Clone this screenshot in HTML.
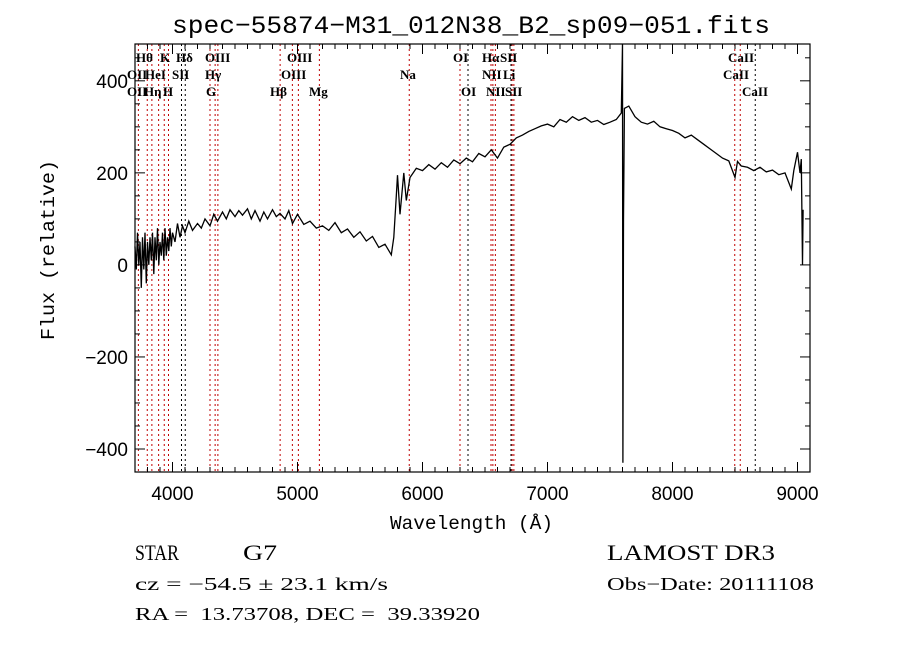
<!DOCTYPE html>
<html><head><meta charset="utf-8"><style>
body{margin:0;background:#fff;}
svg text{font-family:"Liberation Serif","DejaVu Serif",serif;}
svg text.mono{font-family:"Liberation Mono",monospace;}
svg text.sans{font-family:"Liberation Sans",sans-serif;}
</style></head><body>
<svg id="chart" width="900" height="649" viewBox="0 0 900 649" xmlns="http://www.w3.org/2000/svg">
<rect width="900" height="649" fill="#fff"/>
<text x="172" y="33" font-size="25" class="mono" textLength="598" lengthAdjust="spacingAndGlyphs">spec−55874−M31_012N38_B2_sp09−051.fits</text>
<g id="lines"></g>
<g id="linelabels"></g>
<path id="spec" fill="none" stroke="#000" stroke-width="1.3"/>
<rect x="135" y="44" width="675" height="428" fill="none" stroke="#000" stroke-width="1.2"/>
<g id="axes"></g>
<text x="390" y="529" font-size="19" class="mono" textLength="163" lengthAdjust="spacingAndGlyphs">Wavelength (Å)</text>
<text transform="translate(54,340) rotate(-90)" font-size="19" class="mono" textLength="180" lengthAdjust="spacingAndGlyphs">Flux (relative)</text>
<text x="135" y="560" font-size="22" textLength="44" lengthAdjust="spacingAndGlyphs">STAR</text>
<text x="243" y="560" font-size="22" textLength="34" lengthAdjust="spacingAndGlyphs">G7</text>
<text x="135" y="590" font-size="18" textLength="253" lengthAdjust="spacingAndGlyphs">cz = −54.5 ± 23.1 km/s</text>
<text x="135" y="620" font-size="18" textLength="345" lengthAdjust="spacingAndGlyphs" xml:space="preserve">RA =  13.73708, DEC =  39.33920</text>
<text x="607" y="560" font-size="22" textLength="168" lengthAdjust="spacingAndGlyphs">LAMOST DR3</text>
<text x="607" y="590" font-size="18" textLength="207" lengthAdjust="spacingAndGlyphs">Obs−Date: 20111108</text>
</svg>
<script>
const waves=[3700,3710,3720,3730,3740,3750,3760,3770,3780,3790,3800,3810,3820,3830,3840,3850,3860,3870,3880,3890,3900,3910,3920,3930,3940,3950,3960,3970,3980,3990,4000,4020,4040,4060,4080,4100,4130,4160,4200,4230,4260,4300,4330,4360,4400,4430,4460,4500,4530,4560,4600,4630,4660,4700,4730,4760,4800,4830,4860,4900,4930,4960,5000,5050,5100,5150,5200,5250,5300,5350,5400,5450,5500,5550,5600,5650,5700,5750,5770,5790,5800,5820,5850,5870,5900,5950,6000,6050,6100,6150,6200,6250,6300,6350,6400,6450,6500,6550,6600,6650,6700,6750,6800,6850,6900,6950,7000,7050,7100,7150,7200,7250,7300,7350,7400,7450,7500,7550,7590,7600,7603,7608,7615,7650,7700,7750,7800,7850,7900,7950,8000,8050,8100,8150,8200,8250,8300,8350,8400,8450,8500,8520,8550,8600,8650,8700,8750,8800,8850,8900,8950,8970,9000,9020,9030,9040,9045];
const flux=[40,-10,70,0,50,-50,60,-10,70,-40,50,0,60,10,70,-20,60,10,80,0,50,20,70,10,80,20,60,30,80,40,70,50,90,60,85,70,95,75,90,80,100,85,110,95,115,100,120,105,118,108,122,100,118,95,115,100,120,105,112,100,118,90,110,88,95,80,85,75,92,70,78,60,72,52,62,38,45,22,60,150,195,110,200,140,190,210,205,218,208,222,212,228,220,232,224,242,235,250,232,256,262,276,282,290,296,302,306,300,316,310,322,314,320,310,314,305,310,316,330,480,-430,100,340,345,322,310,306,312,300,296,292,286,276,282,272,262,252,242,232,226,190,225,215,212,205,212,202,206,196,200,165,205,245,200,230,0,120];
const lineWaves=[3727,3798,3835,3889,3934,3968,4072,4102,4300,4341,4363,4861,4959,5007,5175,5894,6300,6364,6548,6563,6583,6708,6717,6731,8498,8542,8662];
const lineColors=["r","r","r","r","r","r","k","k","r","r","r","r","r","r","r","r","r","k","r","r","r","k","r","r","r","r","k"];
const labelText=["Hθ","K","Hδ","OIII","OIII","OII","HeI","SII","Hγ","OIII","OII","Hη","H","G","Hβ","Mg","OI","Hα","SII","Na","NII","Li","OI","NII","SII","CaII","CaII","CaII"];
const labelX=[136,160,176,205,287,127,145,172,205,281,127,144,163,206,270,309,453,482,500,400,482,503,461,486,505,728,723,742];
const labelRow=[0,0,0,0,0,1,1,1,1,1,2,2,2,2,2,2,0,0,0,1,1,1,2,2,2,0,1,2];
const xTicks=[4000,5000,6000,7000,8000,9000];
const yTicks=[-400,-200,0,200,400];
const X0=3700,X1=9100,Y0=-450,Y1=480,L=135,R=810,T=44,B=472;
const sx=w=>L+(w-X0)/(X1-X0)*(R-L);
const sy=f=>B-(f-Y0)/(Y1-Y0)*(B-T);
const NS="http://www.w3.org/2000/svg";
function mk(t,a,p){const e=document.createElementNS(NS,t);for(const k in a)e.setAttribute(k,a[k]);p.appendChild(e);return e;}
const gl=document.getElementById('lines');
lineWaves.forEach((w,i)=>{const x=sx(w);
const l=mk('line',{x1:x,x2:x,y1:T,y2:B,stroke:lineColors[i]=="r"?"#c00000":"#000","stroke-width":1,"stroke-dasharray":"2,3"},gl);

});
const glab=document.getElementById('linelabels');
labelText.forEach((t,i)=>{const e=mk('text',{x:labelX[i],y:62+labelRow[i]*17,"font-size":13,"font-weight":"bold"},glab);e.textContent=t;

});
let d="";waves.forEach((w,i)=>{d+=(i?"L":"M")+sx(w).toFixed(1)+","+sy(flux[i]).toFixed(1);});
document.getElementById('spec').setAttribute('d',d);
const ga=document.getElementById('axes');
for(let w=3700;w<=9100;w+=100){const x=sx(w);const maj=w%1000==0;const len=maj?10:5;
mk('line',{x1:x,x2:x,y1:B,y2:B-len,stroke:"#000"},ga);mk('line',{x1:x,x2:x,y1:T,y2:T+len,stroke:"#000"},ga);}
xTicks.forEach(v=>{const e=mk('text',{x:sx(v),y:500,"font-size":19,"text-anchor":"middle","class":"sans"},ga);e.textContent=v;

});
for(let f=-450;f<=450;f+=50){const y=sy(f);const maj=f%200==0;const len=maj?10:5;
mk('line',{x1:L,x2:L+len,y1:y,y2:y,stroke:"#000"},ga);mk('line',{x1:R,x2:R-len,y1:y,y2:y,stroke:"#000"},ga);}
yTicks.forEach(v=>{const e=mk('text',{x:128,y:sy(v)+7,"font-size":19,"text-anchor":"end","class":"sans"},ga);e.textContent=v<0?"−"+(-v):v;

});
</script>
</body></html>
